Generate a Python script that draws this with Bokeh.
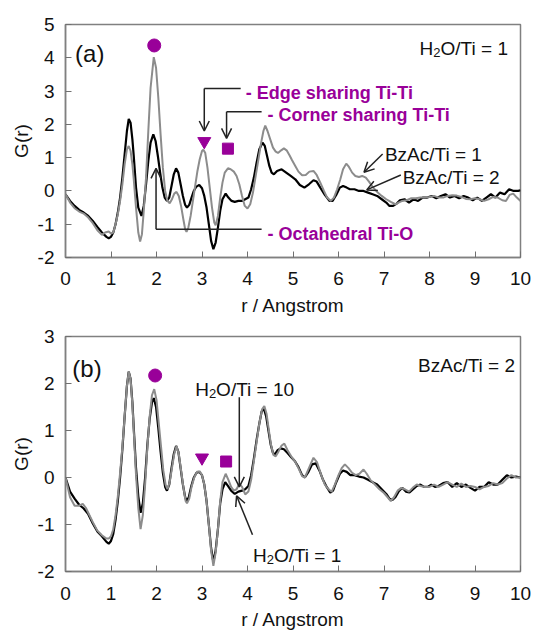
from bokeh.plotting import figure
from bokeh.layouts import column
from bokeh.models import Range1d, FixedTicker, Label, Arrow, OpenHead
from bokeh.embed import file_html
from bokeh.resources import INLINE

# ---------------- data: panel (a), H2O/Ti = 1 ----------------
r_a_bz2 = [0, 0.1, 0.2, 0.3, 0.4, 0.5, 0.6, 0.7, 0.8, 0.9, 0.95, 1.0, 1.05, 1.1, 1.15, 1.2, 1.25, 1.3, 1.35, 1.39,
           1.43, 1.47, 1.5, 1.55, 1.6, 1.67, 1.72, 1.77, 1.82, 1.87, 1.93, 1.98, 2.03, 2.08, 2.13, 2.18, 2.23, 2.28,
           2.33, 2.38, 2.43, 2.48, 2.53, 2.58, 2.63, 2.67, 2.72, 2.77, 2.82, 2.87, 2.94, 3.0, 3.05, 3.1, 3.15, 3.2,
           3.25, 3.3, 3.35, 3.4, 3.45, 3.52, 3.58, 3.65, 3.72, 3.8, 3.88, 3.95, 4.02, 4.08, 4.14, 4.2, 4.26, 4.33,
           4.38, 4.43, 4.48, 4.53, 4.58, 4.65, 4.75, 4.85, 4.95, 5.05, 5.15, 5.25, 5.35, 5.45, 5.52, 5.6, 5.7, 5.8,
           5.87, 5.95, 6.03, 6.1, 6.18, 6.25, 6.35, 6.45, 6.55, 6.65, 6.75, 6.85, 6.95, 7.05, 7.12, 7.2, 7.28, 7.35,
           7.45, 7.55, 7.65, 7.75, 7.85, 7.95, 8.05, 8.15, 8.25, 8.35, 8.45, 8.55, 8.65, 8.75, 8.85, 8.95, 9.05,
           9.15, 9.25, 9.35, 9.45, 9.55, 9.65, 9.75, 9.85, 9.95, 10.0]
g_a_bz2 = [-0.10, -0.30, -0.45, -0.57, -0.65, -0.75, -0.90, -1.08, -1.25, -1.38, -1.42, -1.38, -1.25, -1.00, -0.65,
           -0.20, 0.40, 1.10, 1.80, 2.16, 2.05, 1.55, 1.05, 0.10, -0.50, -0.75, -0.45, 0.20, 0.90, 1.45, 1.70, 1.50,
           1.05, 0.55, 0.10, -0.20, -0.30, -0.20, 0.15, 0.50, 0.68, 0.55, 0.20, -0.15, -0.42, -0.50, -0.42, -0.20,
           0.00, 0.12, 0.18, 0.08, -0.15, -0.50, -1.00, -1.50, -1.75, -1.55, -1.10, -0.60, -0.25, -0.08, -0.20,
           -0.30, -0.33, -0.30, -0.30, -0.25, -0.20, 0.05, 0.40, 0.85, 1.25, 1.45, 1.35, 1.05, 0.75, 0.55, 0.50,
           0.60, 0.65, 0.55, 0.45, 0.35, 0.18, 0.10, 0.20, 0.32, 0.28, 0.10, -0.12, -0.30, -0.30, -0.12, 0.10, 0.15,
           0.10, 0.05, 0.05, 0.00, 0.00, -0.05, -0.10, -0.15, -0.25, -0.35, -0.45, -0.45, -0.38, -0.28, -0.25,
           -0.35, -0.25, -0.30, -0.20, -0.20, -0.15, -0.22, -0.15, -0.10, -0.20, -0.15, -0.22, -0.15, -0.20, -0.28,
           -0.20, -0.30, -0.20, -0.10, -0.20, -0.05, -0.10, 0.05, 0.00, 0.00, 0.02]

r_a_bz1 = [0, 0.1, 0.2, 0.3, 0.4, 0.5, 0.6, 0.7, 0.8, 0.87, 0.95, 1.0, 1.05, 1.1, 1.15, 1.2, 1.25, 1.3, 1.35, 1.39,
           1.43, 1.47, 1.5, 1.55, 1.6, 1.64, 1.68, 1.72, 1.77, 1.82, 1.87, 1.94, 1.99, 2.04, 2.09, 2.14, 2.19, 2.24,
           2.29, 2.34, 2.39, 2.44, 2.49, 2.54, 2.59, 2.63, 2.66, 2.7, 2.75, 2.8, 2.85, 2.9, 2.95, 3.0, 3.03, 3.07,
           3.12, 3.17, 3.22, 3.27, 3.3, 3.35, 3.4, 3.45, 3.5, 3.57, 3.63, 3.7, 3.76, 3.82, 3.88, 3.94, 4.0, 4.06,
           4.12, 4.18, 4.24, 4.3, 4.35, 4.39, 4.44, 4.5, 4.56, 4.62, 4.67, 4.74, 4.8, 4.86, 4.92, 4.98, 5.05, 5.12,
           5.2, 5.28, 5.36, 5.45, 5.52, 5.6, 5.68, 5.75, 5.83, 5.9, 5.97, 6.04, 6.1, 6.17, 6.23, 6.3, 6.37, 6.45,
           6.52, 6.6, 6.67, 6.75, 6.85, 6.95, 7.05, 7.15, 7.25, 7.32, 7.4, 7.5, 7.6, 7.7, 7.8, 7.9, 8.0, 8.1, 8.2,
           8.3, 8.4, 8.5, 8.6, 8.7, 8.8, 8.9, 9.0, 9.1, 9.2, 9.3, 9.4, 9.5, 9.6, 9.68, 9.76, 9.84, 9.92, 10.0]
g_a_bz1 = [-0.10, -0.35, -0.52, -0.62, -0.68, -0.80, -0.97, -1.18, -1.32, -1.25, -1.22, -1.28, -1.25, -1.00, -0.70,
           -0.30, 0.20, 0.80, 1.25, 1.35, 1.20, 0.80, 0.35, -0.50, -1.25, -1.52, -1.30, -0.60, 0.40, 1.80, 3.10,
           4.02, 3.70, 2.80, 1.70, 0.70, 0.00, -0.30, -0.37, -0.25, -0.08, -0.03, -0.15, -0.45, -0.85, -1.15, -1.23,
           -1.10, -0.75, -0.30, 0.15, 0.60, 0.95, 1.20, 1.24, 1.15, 0.70, 0.10, -0.50, -0.95, -1.03, -0.75, -0.20,
           0.25, 0.55, 0.68, 0.65, 0.58, 0.45, 0.20, -0.15, -0.45, -0.53, -0.40, -0.05, 0.45, 0.95, 1.45, 1.80,
           1.96, 1.80, 1.55, 1.30, 1.18, 1.14, 1.22, 1.28, 1.22, 1.08, 0.92, 0.75, 0.58, 0.47, 0.48, 0.58, 0.60,
           0.48, 0.25, 0.00, -0.20, -0.30, -0.20, 0.05, 0.35, 0.65, 0.82, 0.72, 0.55, 0.45, 0.42, 0.45, 0.40, 0.28,
           0.12, -0.03, -0.15, -0.25, -0.33, -0.40, -0.35, -0.30, -0.28, -0.22, -0.22, -0.20, -0.20, -0.18, -0.15,
           -0.20, -0.20, -0.15, -0.13, -0.14, -0.18, -0.24, -0.25, -0.22, -0.25, -0.30, -0.25, -0.18, -0.20, -0.28,
           -0.30, -0.12, -0.08, -0.20, -0.30]

# ---------------- data: panel (b), BzAc/Ti = 2 ----------------
r_b_w1 = [0, 0.1, 0.2, 0.3, 0.4, 0.5, 0.6, 0.7, 0.8, 0.9, 0.95, 1.0, 1.05, 1.1, 1.15, 1.2, 1.25, 1.3, 1.35, 1.39,
          1.43, 1.47, 1.5, 1.55, 1.6, 1.65, 1.7, 1.75, 1.8, 1.85, 1.9, 1.94, 1.99, 2.04, 2.09, 2.14, 2.19, 2.23,
          2.28, 2.33, 2.38, 2.43, 2.48, 2.53, 2.58, 2.63, 2.66, 2.71, 2.76, 2.82, 2.88, 2.94, 3.0, 3.05, 3.1, 3.15,
          3.2, 3.25, 3.3, 3.35, 3.4, 3.45, 3.51, 3.57, 3.64, 3.72, 3.8, 3.88, 3.95, 4.02, 4.08, 4.14, 4.2, 4.26,
          4.31, 4.36, 4.41, 4.46, 4.51, 4.56, 4.6, 4.66, 4.73, 4.8, 4.88, 4.96, 5.04, 5.12, 5.2, 5.26, 5.34, 5.42,
          5.5, 5.58, 5.66, 5.74, 5.82, 5.88, 5.95, 6.03, 6.1, 6.18, 6.26, 6.35, 6.45, 6.55, 6.65, 6.75, 6.85, 6.95,
          7.05, 7.12, 7.18, 7.25, 7.32, 7.4, 7.48, 7.56, 7.64, 7.72, 7.8, 7.88, 7.96, 8.04, 8.12, 8.2, 8.3, 8.4,
          8.5, 8.6, 8.7, 8.8, 8.9, 9.0, 9.1, 9.2, 9.3, 9.4, 9.5, 9.6, 9.7, 9.8, 9.9, 10.0]
g_b_w1 = [0.00, -0.30, -0.45, -0.58, -0.66, -0.78, -0.98, -1.15, -1.25, -1.37, -1.41, -1.35, -1.20, -0.90, -0.50,
          0.00, 0.60, 1.30, 1.95, 2.25, 2.10, 1.60, 1.05, 0.20, -0.40, -0.75, -0.55, 0.00, 0.70, 1.25, 1.60, 1.69,
          1.50, 1.05, 0.55, 0.10, -0.20, -0.28, -0.15, 0.20, 0.50, 0.67, 0.55, 0.20, -0.15, -0.42, -0.50, -0.42,
          -0.20, 0.00, 0.10, 0.12, 0.05, -0.15, -0.50, -1.00, -1.50, -1.80, -1.55, -1.10, -0.55, -0.25, -0.10,
          -0.18, -0.28, -0.35, -0.30, -0.28, -0.25, -0.18, 0.05, 0.40, 0.80, 1.15, 1.40, 1.47, 1.30, 1.00, 0.70,
          0.52, 0.49, 0.58, 0.62, 0.60, 0.52, 0.43, 0.35, 0.22, 0.05, 0.00, 0.12, 0.28, 0.30, 0.15, -0.05, -0.20,
          -0.32, -0.28, -0.10, 0.08, 0.15, 0.12, 0.05, 0.05, 0.02, 0.00, -0.05, -0.10, -0.15, -0.25, -0.35, -0.45,
          -0.48, -0.42, -0.30, -0.22, -0.30, -0.32, -0.25, -0.18, -0.15, -0.20, -0.20, -0.15, -0.20, -0.18, -0.12,
          -0.10, -0.20, -0.12, -0.20, -0.15, -0.22, -0.28, -0.20, -0.20, -0.10, -0.15, -0.15, -0.05, 0.05, 0.00,
          0.02, 0.00]

r_b_w10 = [0, 0.1, 0.2, 0.3, 0.38, 0.45, 0.5, 0.6, 0.7, 0.8, 0.9, 0.95, 1.0, 1.05, 1.1, 1.15, 1.2, 1.25, 1.3, 1.35,
           1.39, 1.43, 1.47, 1.5, 1.55, 1.6, 1.65, 1.7, 1.75, 1.8, 1.85, 1.9, 1.95, 2.0, 2.05, 2.1, 2.15, 2.2, 2.24,
           2.29, 2.34, 2.39, 2.44, 2.49, 2.54, 2.59, 2.64, 2.67, 2.72, 2.77, 2.83, 2.89, 2.95, 3.0, 3.05, 3.1, 3.15,
           3.2, 3.25, 3.3, 3.35, 3.4, 3.45, 3.52, 3.58, 3.64, 3.7, 3.76, 3.82, 3.88, 3.95, 4.02, 4.08, 4.14, 4.2,
           4.26, 4.32, 4.37, 4.42, 4.47, 4.52, 4.57, 4.62, 4.68, 4.75, 4.81, 4.88, 4.96, 5.04, 5.12, 5.2, 5.26,
           5.34, 5.45, 5.53, 5.62, 5.7, 5.78, 5.85, 5.92, 6.0, 6.07, 6.14, 6.22, 6.3, 6.38, 6.46, 6.55, 6.62, 6.7,
           6.8, 6.9, 7.0, 7.08, 7.15, 7.22, 7.3, 7.38, 7.46, 7.55, 7.63, 7.72, 7.8, 7.9, 8.0, 8.1, 8.2, 8.3, 8.4,
           8.5, 8.6, 8.7, 8.8, 8.9, 9.0, 9.1, 9.2, 9.3, 9.4, 9.5, 9.6, 9.7, 9.8, 9.9, 10.0]
g_b_w10 = [0.00, -0.42, -0.60, -0.60, -0.56, -0.65, -0.75, -0.95, -1.13, -1.23, -1.30, -1.30, -1.25, -1.10, -0.80,
           -0.40, 0.10, 0.65, 1.30, 1.95, 2.25, 2.10, 1.55, 1.00, 0.05, -0.65, -1.10, -0.80, -0.15, 0.65, 1.30,
           1.75, 1.88, 1.65, 1.15, 0.65, 0.15, -0.15, -0.25, -0.10, 0.20, 0.50, 0.67, 0.50, 0.15, -0.20, -0.50,
           -0.55, -0.45, -0.20, 0.00, 0.12, 0.13, 0.05, -0.15, -0.50, -1.00, -1.55, -1.88, -1.60, -1.10, -0.50,
           -0.10, 0.08, -0.05, -0.20, -0.28, -0.25, -0.13, -0.20, -0.36, -0.30, -0.05, 0.35, 0.75, 1.15, 1.45,
           1.52, 1.35, 1.00, 0.68, 0.48, 0.45, 0.55, 0.68, 0.72, 0.58, 0.45, 0.35, 0.20, 0.03, 0.00, 0.18, 0.42,
           0.32, 0.05, -0.15, -0.25, -0.30, -0.15, 0.05, 0.20, 0.28, 0.20, 0.10, 0.05, 0.08, 0.17, 0.08, -0.05,
           -0.15, -0.25, -0.33, -0.42, -0.50, -0.42, -0.28, -0.22, -0.25, -0.30, -0.22, -0.15, -0.18, -0.20, -0.20,
           -0.15, -0.20, -0.15, -0.10, -0.15, -0.20, -0.13, -0.20, -0.18, -0.20, -0.25, -0.20, -0.18, -0.12, -0.15,
           -0.12, -0.02, 0.05, 0.00, 0.00]

# peak markers (circle: Ti-O, triangle: edge Ti-Ti, square: corner Ti-Ti)
marker_kinds = ["circle", "inverted_triangle", "square"]
mark_r_a = [1.95, 3.05, 3.57]
mark_g_a = [4.37, 1.49, 1.27]
mark_r_b = [1.97, 3.00, 3.53]
mark_g_b = [2.17, 0.42, 0.34]

x_ticks = [0, 1, 2, 3, 4, 5, 6, 7, 8, 9, 10]
y_ticks_a = [-2, -1, 0, 1, 2, 3, 4, 5]
y_ticks_b = [-2, -1, 0, 1, 2, 3]

# ---------------- styling ----------------
FONT = "Liberation Sans"
PURPLE = "#990099"
GRAY_FRAME = "#808080"
BLACK_LINE = "#000000"
GRAY_LINE = "#8c8c8c"
ARROW_C = "#222222"
TXT = "#111111"
FW = 455

ARIAL = {' ': 278, '(': 333, ')': 333, '/': 278, '=': 584, 'A': 667, 'B': 667, 'G': 778, 'H': 722,
         'O': 778, 'T': 611, 'c': 500, 'i': 222, 'r': 333, 'z': 500}
for d in "0123456789":
    ARIAL[d] = 556


def tw(s, size):
    return sum(ARIAL.get(ch, 556) for ch in s) * size / 1000.0


def make_fig(ymin, ymax, yt, fh, top, bottom, stand, lab_stand):
    p = figure(frame_width=FW, frame_height=fh, x_range=Range1d(0, 10), y_range=Range1d(ymin, ymax),
               output_backend="svg", toolbar_location=None, min_border_left=65, min_border_right=13,
               min_border_top=top, min_border_bottom=bottom)
    p.xgrid.visible = False
    p.ygrid.visible = False
    p.outline_line_color = GRAY_FRAME
    p.outline_line_width = 1.5
    p.background_fill_color = "white"
    p.border_fill_color = "white"
    p.xaxis.ticker = FixedTicker(ticks=x_ticks)
    p.yaxis.ticker = FixedTicker(ticks=yt)
    p.yaxis.major_label_overrides = {t: str(t) for t in yt}
    for ax in (p.xaxis[0], p.yaxis[0]):
        ax.axis_line_color = GRAY_FRAME
        ax.axis_line_width = 1.5
        ax.major_tick_in = 6
        ax.major_tick_out = 0
        ax.major_tick_line_color = "#707070"
        ax.major_tick_line_width = 1
        ax.minor_tick_line_color = None
        ax.major_label_text_font = FONT
        ax.major_label_text_font_size = "19px"
        ax.major_label_text_color = TXT
        ax.axis_label_text_font = FONT
        ax.axis_label_text_font_size = "19px"
        ax.axis_label_text_font_style = "normal"
        ax.axis_label_text_color = TXT
    p.yaxis.major_label_standoff = 11
    p.xaxis.major_label_standoff = stand
    p.xaxis.axis_label = "r / Angstrom"
    p.yaxis.axis_label = "G(r)"
    p.xaxis.axis_label_standoff = lab_stand
    p.yaxis.axis_label_standoff = 3
    return p


def rich(p, x0, y0, segs, pxx, pxy, align="left"):
    """segs: list of (text, size, dy_px)"""
    total = sum(tw(t, s) for t, s, _ in segs)
    x = x0 if align == "left" else x0 - total / pxx
    for t, s, dy in segs:
        p.add_layout(Label(x=x, y=y0 + dy / pxy, text=t, text_font=FONT, text_font_size=f"{s}px",
                           text_color=TXT, text_align="left", text_baseline="alphabetic"))
        x += tw(t, s) / pxx


def arrow(p, x1, y1, x2, y2, head=True):
    p.add_layout(Arrow(end=OpenHead(size=10, line_color=ARROW_C, line_width=1.5) if head else None,
                       x_start=x1, y_start=y1, x_end=x2, y_end=y2, line_color=ARROW_C, line_width=1.5))


def plain(p, x, y, text, size=19, align="left"):
    p.add_layout(Label(x=x, y=y, text=text, text_font=FONT, text_font_size=f"{size}px", text_color=TXT,
                       text_align=align, text_baseline="alphabetic"))


def purple(p, x, y, text):
    p.add_layout(Label(x=x, y=y, text=text, text_font=FONT, text_font_size="18px", text_font_style="bold",
                       text_color=PURPLE, text_align="left", text_baseline="alphabetic"))


def markers(p, rs, gs):
    sizes = {"circle": 13, "inverted_triangle": 13, "square": 11}
    for k, r, g in zip(marker_kinds, rs, gs):
        p.scatter([r], [g], marker=k, size=sizes[k], fill_color=PURPLE, line_color=PURPLE)


pxx = FW / 10.0

# ---------------- panel (a) ----------------
FHA = 233
pa = make_fig(-2, 5, y_ticks_a, FHA, 24, 63, 14, 7)
pya = FHA / 7.0
pa.line(r_a_bz2, g_a_bz2, line_color=BLACK_LINE, line_width=2.2)
pa.line(r_a_bz1, g_a_bz1, line_color=GRAY_LINE, line_width=2.0)
markers(pa, mark_r_a, mark_g_a)

plain(pa, 0.21, 4.13, "(a)", size=24)
rich(pa, 9.74, 4.27, [("H", 19, 0), ("2", 13, -4), ("O/Ti = 1", 19, 0)], pxx, pya, align="right")

# edge sharing
arrow(pa, 3.85, 3.08, 3.05, 3.08, head=False)
arrow(pa, 3.05, 3.08, 3.05, 1.80)
purple(pa, 3.96, 2.95, "- Edge sharing Ti-Ti")
# corner sharing
arrow(pa, 4.31, 2.38, 3.54, 2.38, head=False)
arrow(pa, 3.54, 2.38, 3.54, 1.58)
purple(pa, 4.44, 2.29, "- Corner sharing Ti-Ti")
# octahedral
arrow(pa, 4.31, -1.15, 1.99, -1.15, head=False)
arrow(pa, 1.99, -1.15, 1.99, 0.68)
purple(pa, 4.44, -1.28, "- Octahedral Ti-O")

# BzAc labels
plain(pa, 7.02, 1.09, "BzAc/Ti = 1")
arrow(pa, 6.97, 1.11, 6.56, 0.56)
plain(pa, 7.41, 0.39, "BzAc/Ti = 2")
arrow(pa, 7.37, 0.48, 6.62, 0.03)

# ---------------- panel (b) ----------------
FHB = 235
pb = make_fig(-2, 3, y_ticks_b, FHB, 16, 60, 15, 6)
pyb = FHB / 5.0
pb.line(r_b_w1, g_b_w1, line_color=BLACK_LINE, line_width=2.2)
pb.line(r_b_w10, g_b_w10, line_color=GRAY_LINE, line_width=2.0)
markers(pb, mark_r_b, mark_g_b)

plain(pb, 0.15, 2.31, "(b)", size=24)
plain(pb, 9.88, 2.39, "BzAc/Ti = 2", align="right")
rich(pb, 2.85, 1.88, [("H", 19, 0), ("2", 13, -4), ("O/Ti = 10", 19, 0)], pxx, pyb)
arrow(pb, 3.82, 1.71, 3.82, -0.20)
rich(pb, 4.12, -1.65, [("H", 19, 0), ("2", 13, -4), ("O/Ti = 1", 19, 0)], pxx, pyb)
arrow(pb, 4.11, -1.22, 3.76, -0.39)

layout = column(pa, pb, spacing=0)
open("out.html", "w").write(file_html(layout, INLINE))
